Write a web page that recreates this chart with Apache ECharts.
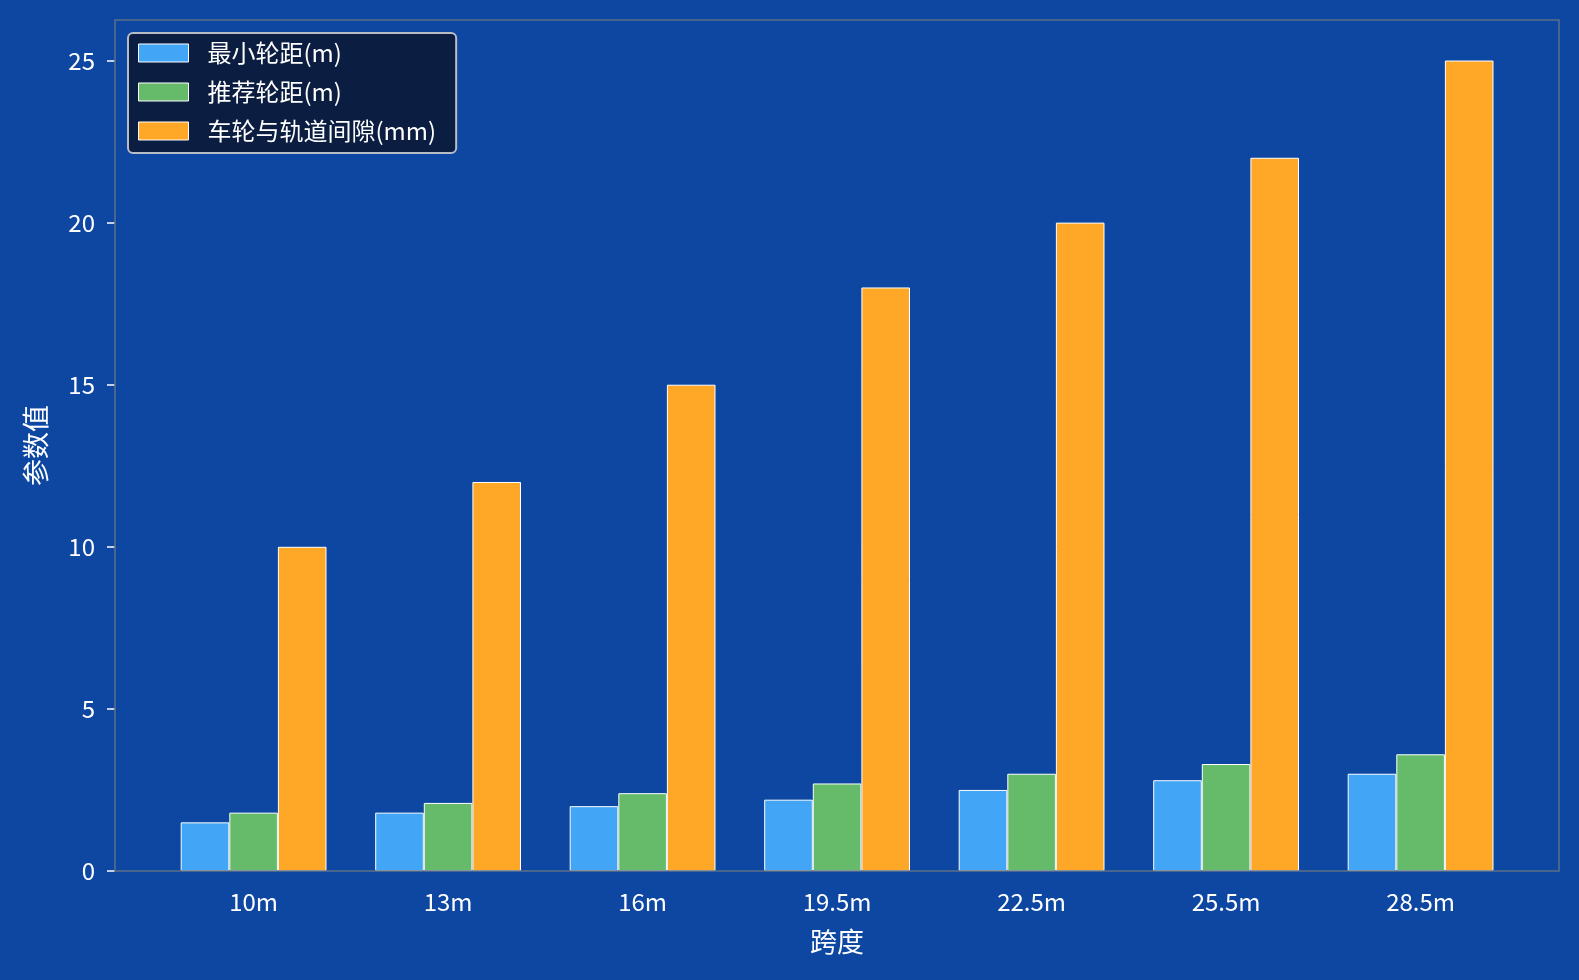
<!DOCTYPE html>
<html>
<head>
<meta charset="utf-8">
<script src="https://cdn.jsdelivr.net/npm/echarts@6/dist/echarts.min.js"></script>
<style>
  html, body { margin: 0; padding: 0; background: #0d47a1; }
  #main { width: 1579px; height: 980px; }
</style>
</head>
<body>
<div id="main"></div>
<script>
    var spans = ['10m', '13m', '16m', '19.5m', '22.5m', '25.5m', '28.5m'];
    var minWheelbase = [1.5, 1.8, 2.0, 2.2, 2.5, 2.8, 3.0];
    var recWheelbase = [1.8, 2.1, 2.4, 2.7, 3.0, 3.3, 3.6];
    var railGap = [10, 12, 15, 18, 20, 22, 25];
    var yTicks = [0, 5, 10, 15, 20, 25];

    var font = '"Noto Sans CJK SC", "Noto Sans", sans-serif';
    var frameColor = '#5b7086';

    var myChart = echarts.init(document.getElementById('main'));

    myChart.setOption({
        backgroundColor: '#0d47a1',
        animation: false,
        textStyle: { fontFamily: font },
        grid: {
            left: 156.35,
            right: 61.15,
            top: 20,
            bottom: 109
        },
        legend: {
            left: 128,
            top: 33,
            orient: 'vertical',
            icon: 'rect',
            backgroundColor: '#0b1e42',
            borderColor: '#b8bcc4',
            borderWidth: 2,
            borderRadius: 5,
            padding: [8, 20, 10, 10],
            itemWidth: 50,
            itemHeight: 18,
            itemGap: 15,
            itemStyle: { borderColor: '#ffffff', borderWidth: 1 },
            textStyle: {
                color: '#ffffff',
                fontSize: 24,
                fontFamily: font,
                padding: [0, 0, 0, 14]
            },
            data: ['最小轮距(m)', '推荐轮距(m)', '车轮与轨道间隙(mm)']
        },
        xAxis: {
            type: 'category',
            data: spans,
            name: '跨度',
            nameLocation: 'middle',
            nameGap: 57,
            nameTextStyle: { color: '#ffffff', fontSize: 27, fontFamily: font },
            axisLine: { show: false },
            axisTick: {
                alignWithLabel: true,
                length: 8,
                lineStyle: { color: '#ffffff', width: 1.5 }
            },
            axisLabel: { color: '#ffffff', fontSize: 24, margin: 19, fontFamily: font }
        },
        yAxis: {
            type: 'value',
            min: 0,
            max: 26.25,
            offset: 41.35,
            name: '参数值',
            nameLocation: 'middle',
            nameGap: 66,
            nameRotate: 90,
            nameTextStyle: { color: '#ffffff', fontSize: 27, fontFamily: font },
            splitLine: { show: false },
            axisLine: { show: false },
            axisTick: {
                show: true,
                length: 8,
                customValues: yTicks,
                lineStyle: { color: '#ffffff', width: 1.5 }
            },
            axisLabel: {
                color: '#ffffff',
                fontSize: 24,
                margin: 20,
                fontFamily: font,
                customValues: yTicks
            }
        },
        series: [
            {
                name: '最小轮距(m)',
                type: 'bar',
                data: minWheelbase,
                barWidth: 48.6,
                barGap: '0%',
                itemStyle: { color: '#42a5f5', borderColor: '#ffffff', borderWidth: 1 }
            },
            {
                name: '推荐轮距(m)',
                type: 'bar',
                data: recWheelbase,
                barWidth: 48.6,
                barGap: '0%',
                itemStyle: { color: '#66bb6a', borderColor: '#ffffff', borderWidth: 1 }
            },
            {
                name: '车轮与轨道间隙(mm)',
                type: 'bar',
                data: railGap,
                barWidth: 48.6,
                barGap: '0%',
                itemStyle: { color: '#ffa726', borderColor: '#ffffff', borderWidth: 1 }
            }
        ],
        graphic: [
            {
                // plot frame (spines)
                type: 'rect',
                z: 100,
                silent: true,
                shape: { x: 115, y: 20, width: 1444, height: 851 },
                style: { fill: 'none', stroke: frameColor, lineWidth: 1.5 }
            }
        ]
    });
</script>
</body>
</html>
